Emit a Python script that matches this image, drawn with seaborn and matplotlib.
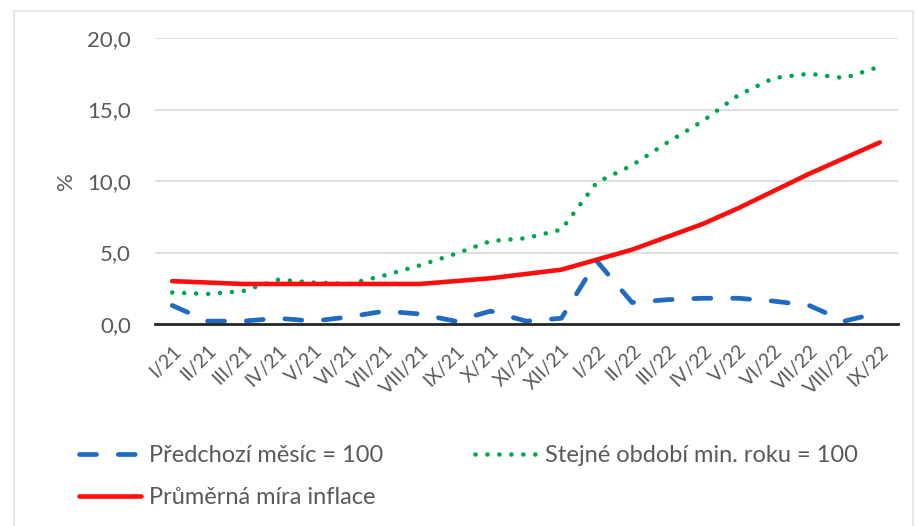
import matplotlib
matplotlib.use("Agg")
import matplotlib.pyplot as plt
import matplotlib.patches as mpatches
import seaborn as sns
import pandas as pd
import numpy as np

months = ["I/21", "II/21", "III/21", "IV/21", "V/21", "VI/21", "VII/21", "VIII/21",
          "IX/21", "X/21", "XI/21", "XII/21", "I/22", "II/22", "III/22", "IV/22",
          "V/22", "VI/22", "VII/22", "VIII/22", "IX/22"]
mom = [1.3, 0.2, 0.2, 0.4, 0.2, 0.5, 0.9, 0.7, 0.2, 0.9, 0.2, 0.4,
       4.4, 1.5, 1.7, 1.8, 1.8, 1.6, 1.3, 0.2, 0.8]
yoy = [2.2, 2.1, 2.3, 3.1, 2.9, 2.8, 3.4, 4.1, 4.9, 5.8, 6.0, 6.6,
       9.9, 11.1, 12.7, 14.2, 16.0, 17.2, 17.5, 17.2, 18.0]
avg = [3.0, 2.9, 2.8, 2.8, 2.8, 2.8, 2.8, 2.8, 3.0, 3.2, 3.5, 3.8,
       4.5, 5.2, 6.1, 7.0, 8.1, 9.3, 10.5, 11.6, 12.7]
labels = ["Předchozí měsíc = 100", "Stejné období min. roku = 100", "Průměrná míra inflace"]
yticks = [0, 5, 10, 15, 20]

sns.set_theme(style="white")
plt.rcParams['font.family'] = ['Lato', 'DejaVu Sans']

fig = plt.figure(figsize=(9.17, 5.26), dpi=100)
fig.patch.set_facecolor("white")
# chart-area frame
fig.patches.append(mpatches.Rectangle((14/917, -0.05), (913-14)/917, 1 - 11/526 + 0.05,
                                      transform=fig.transFigure, fill=False,
                                      edgecolor="#E3E3E3", linewidth=1.2))

ax = fig.add_axes([154.5/917, 1 - 324/526, (897.5-154.5)/917, (324-38)/526])

df = pd.DataFrame({"x": np.arange(len(months)), "mom": mom, "yoy": yoy, "avg": avg})

blue = "#1F6BC2"
green = "#00A64F"
red = "#FF0D0D"

l1 = sns.lineplot(data=df, x="x", y="mom", ax=ax, color=blue, linewidth=3.4,
                  label=labels[0]).lines[-1]
l1.set_dashes([3.6, 4.6])
l1.set_dash_capstyle("round")
l2 = sns.lineplot(data=df, x="x", y="yoy", ax=ax, color=green, linewidth=3.3,
                  label=labels[1]).lines[-1]
l2.set_dashes([0.01, 2.6])
l2.set_dash_capstyle("round")
l3 = sns.lineplot(data=df, x="x", y="avg", ax=ax, color=red, linewidth=3.3,
                  label=labels[2]).lines[-1]
l3.set_solid_capstyle("round")

ax.set_xlim(-0.5, len(months) - 0.5)
ax.set_ylim(0, 20)
ax.set_yticks(yticks)
ax.set_yticklabels([f"{v:.1f}".replace(".", ",") for v in yticks], fontsize=16, color="#595959")
ax.set_xticks(df["x"])
ax.set_xticklabels(months, rotation=45, ha="right", va="top", rotation_mode="anchor",
                   fontsize=14, color="#595959")
ax.tick_params(axis="x", length=0, pad=13)
ax.tick_params(axis="y", length=0, pad=17)
ax.set_xlabel("")
ax.set_ylabel("%", fontsize=16, color="#595959", labelpad=8)
ax.yaxis.grid(True, color="#D9D9D9", linewidth=1.2)
ax.set_axisbelow(True)
for s in ["top", "right", "left"]:
    ax.spines[s].set_visible(False)
ax.spines["bottom"].set_color("#262626")
ax.spines["bottom"].set_linewidth(2)
ax.spines["bottom"].set_zorder(3)

ax.get_legend().remove()
h = [l1, l3, l2]
lab = [labels[0], labels[2], labels[1]]
fig.legend(h, lab, ncol=2, loc="upper left", bbox_to_anchor=(58/917, 1 - 424/526),
           frameon=False, fontsize=17, labelcolor="#595959", handlelength=2.6,
           handletextpad=0.35, columnspacing=3.9, labelspacing=0.9)

fig.savefig("out.png", dpi=100, facecolor="white")
